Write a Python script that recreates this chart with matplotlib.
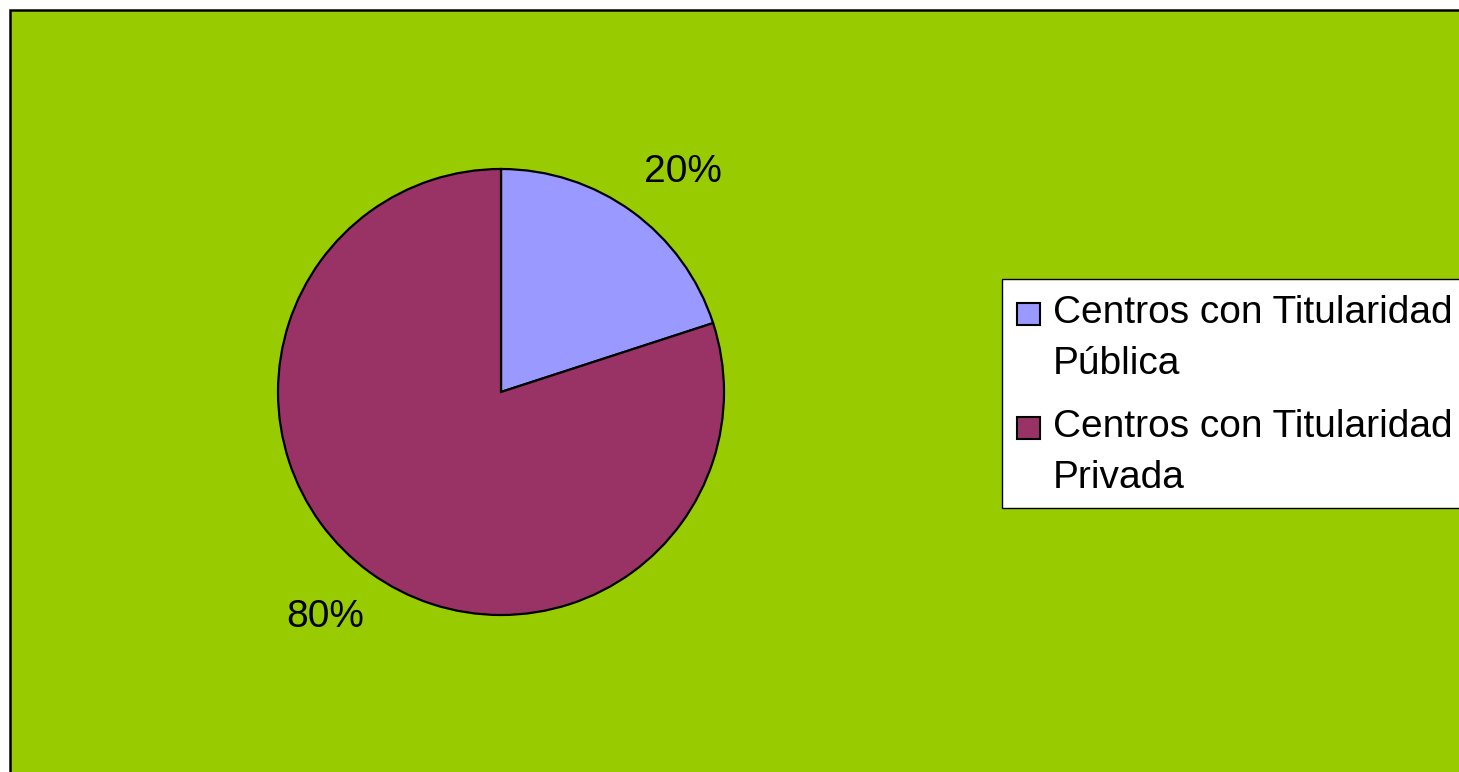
import numpy as np
import matplotlib.pyplot as plt
from matplotlib.patches import Rectangle

# data
categories = ["Centros con Titularidad\nPública", "Centros con Titularidad\nPrivada"]
shares = [20, 80]
colors = ["#9999FF", "#993366"]

W, H = 1459, 772
plt.rcParams["font.family"] = ["Liberation Sans", "DejaVu Sans"]

fig = plt.figure(figsize=(W / 100, H / 100), dpi=100)
fig.patch.set_facecolor("white")


def fx(px):
    return px / W


def fy(py):
    return 1 - py / H


# green chart area (clipped at right / bottom like the original)
fig.patches.append(Rectangle((fx(10), fy(790)), fx(1480) - fx(10), fy(10) - fy(790),
                             transform=fig.transFigure, facecolor="#99CC00",
                             edgecolor="black", linewidth=1.8, zorder=-5))

# pie
cx, cy, r = 501, 392, 223
ax = fig.add_axes([fx(cx - r), fy(cy + r), 2 * r / W, 2 * r / H])
ax.set_zorder(5)
ax.set_facecolor("none")
wedges, texts, autotexts = ax.pie(
    shares, colors=colors, startangle=90, counterclock=False,
    autopct="%1.0f%%", pctdistance=1.28,
    wedgeprops=dict(edgecolor="black", linewidth=1.6),
    textprops=dict(fontsize=28, color="black"))

# nudge the percentage labels slightly clockwise, like the original
for w, t, shift in zip(wedges, autotexts, [-3.5, -2.0]):
    ang = np.deg2rad((w.theta1 + w.theta2) / 2 + shift)
    t.set_position((1.28 * np.cos(ang), 1.28 * np.sin(ang)))

ax.set_xlim(-1, 1)
ax.set_ylim(-1, 1)
ax.set_aspect("equal")
ax.axis("off")

# legend box
fig.patches.append(Rectangle((fx(1002), fy(508)), fx(1480) - fx(1002), fy(279) - fy(508),
                             transform=fig.transFigure, facecolor="white",
                             edgecolor="black", linewidth=1, zorder=1))
baselines = [323, 437]
for lab, col, base in zip(categories, colors, baselines):
    fig.patches.append(Rectangle((fx(1017), fy(base + 2)), 23 / W, 22 / H,
                                 transform=fig.transFigure, facecolor=col,
                                 edgecolor="black", linewidth=1.5, zorder=2))
    for i, line in enumerate(lab.split("\n")):
        fig.text(fx(1053), fy(base + i * 51), line, fontsize=28,
                 va="baseline", ha="left", zorder=3)

fig.savefig("out.png", dpi=100)
